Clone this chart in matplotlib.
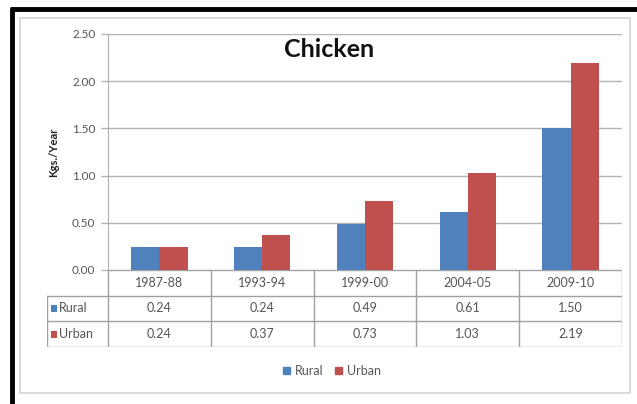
import matplotlib
matplotlib.use("Agg")
import matplotlib.pyplot as plt
from matplotlib.patches import Rectangle
from matplotlib.lines import Line2D

# Per-capita chicken consumption (Kgs./Year) by survey round
periods = ["1987-88", "1993-94", "1999-00", "2004-05", "2009-10"]
rural = [0.24, 0.24, 0.49, 0.61, 1.50]
urban = [0.24, 0.37, 0.73, 1.03, 2.19]
series_names = ["Rural", "Urban"]
yticks = [0.0, 0.5, 1.0, 1.5, 2.0, 2.5]

BLUE = "#4F81BD"
RED = "#C0504D"
GRID = "#b3b3b3"
TXT = "#555555"
FONT = "Lato"

W, H = 637, 404
fig = plt.figure(figsize=(W / 100, H / 100), dpi=100)
fig.patch.set_facecolor("white")


def fx(px):
    return px / W


def fy(py):
    return 1 - py / H


# Outer black frame (top and left edges visible)
fig.add_artist(Line2D([fx(10), fx(637)], [fy(9), fy(9)], color="black", lw=3.5,
                      transform=fig.transFigure, solid_capstyle="butt"))
fig.add_artist(Line2D([fx(12), fx(12)], [fy(7.5), fy(404)], color="black", lw=3.5,
                      transform=fig.transFigure, solid_capstyle="butt"))
# Chart area border
fig.add_artist(Rectangle((fx(20), fy(393)), fx(630) - fx(20), fy(18) - fy(393),
                         fill=False, edgecolor="#d4d4d4", lw=1.2,
                         transform=fig.transFigure))

# Plot area
L, R, T, B = 108, 622, 34, 270
ax = fig.add_axes([fx(L), fy(B), fx(R) - fx(L), fy(T) - fy(B)])
n = len(periods)
xs = list(range(n))
bw = 0.275
ax.bar([x - bw / 2 for x in xs], rural, width=bw, color=BLUE, zorder=3)
ax.bar([x + bw / 2 for x in xs], urban, width=bw, color=RED, zorder=3)
ax.set_xlim(-0.5, n - 0.5)
ax.set_ylim(0, 2.5)
ax.set_yticks(yticks)
ax.set_yticklabels([f"{v:.2f}" for v in yticks], fontsize=8.5, color=TXT,
                   family=FONT)
ax.set_xticks([])
ax.grid(axis="y", color=GRID, lw=1, zorder=0)
for s in ["top", "right", "bottom"]:
    ax.spines[s].set_visible(False)
ax.spines["left"].set_color(GRID)
ax.tick_params(axis="y", length=5, width=1, color=GRID, pad=4)
ax.set_ylabel("Kgs./Year", fontsize=8, fontweight="bold", family=FONT,
              labelpad=9, color="#222222")

ax.text(0.43, 0.935, "Chicken", transform=ax.transAxes, ha="center",
        va="center", fontsize=18, fontweight="bold", family=FONT,
        color="#111111")

# Data table under the plot
TL, TR = 47, 622
rows_px = [270, 296, 321, 347]
tab = fig.add_axes([fx(TL), fy(rows_px[-1]), fx(TR) - fx(TL),
                    fy(rows_px[0]) - fy(rows_px[-1])])
unit = (R - L) / n
x0 = -0.5 - (L - TL) / unit
tab.set_xlim(x0, n - 0.5)
tab.set_ylim(3, 0)
tab.axis("off")
lc = "#a0a0a0"
# horizontal rules
tab.plot([-0.5, n - 0.5], [0, 0], color=lc, lw=1)
for r in (1, 2, 3):
    tab.plot([x0, n - 0.5], [r, r], color=lc, lw=1)
# vertical rules
for b in range(n + 1):
    tab.plot([b - 0.5, b - 0.5], [0, 3], color=lc, lw=1)
tab.plot([x0, x0], [1, 3], color=lc, lw=1)

for i, p in enumerate(periods):
    tab.text(i, 0.5, p, ha="center", va="center", fontsize=9, color=TXT,
             family=FONT)
for r, (name, vals, col) in enumerate(zip(series_names, [rural, urban],
                                          [BLUE, RED])):
    y = r + 1.5
    for i, v in enumerate(vals):
        tab.text(i, y, f"{v:.2f}", ha="center", va="center", fontsize=9,
                 color=TXT, family=FONT)
    tab.add_patch(Rectangle((x0 + 0.035, y - 0.14), 0.065, 0.28, color=col,
                            lw=0))
    tab.text(x0 + 0.115, y, name, ha="left", va="center", fontsize=9,
             color=TXT, family=FONT)

# Legend below the table
handles = [Rectangle((0, 0), 1, 1, color=BLUE), Rectangle((0, 0), 1, 1, color=RED)]
fig.legend(handles, series_names, loc="center", bbox_to_anchor=(fx(332), fy(371)),
           ncol=2, frameon=False, handlelength=0.55, handleheight=0.55,
           handletextpad=0.4, columnspacing=0.9,
           prop={"family": FONT, "size": 9}, labelcolor=TXT)

fig.savefig("out.png", dpi=100)
